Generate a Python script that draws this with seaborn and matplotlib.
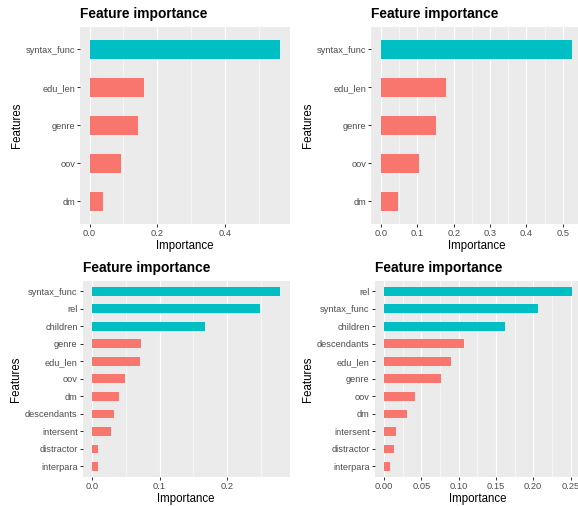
import seaborn as sns
import matplotlib.pyplot as plt
import pandas as pd
import numpy as np


# Data
features_1 = ['syntax_func', 'edu_len', 'genre', 'oov', 'dm']
importance_1 = [0.561, 0.161, 0.143, 0.093, 0.040]
top_1 = [True, False, False, False, False]
ticks_1 = [0.0, 0.2, 0.4]
ticklabels_1 = ['0.0', '0.2', '0.4']

features_2 = ['syntax_func', 'edu_len', 'genre', 'oov', 'dm']
importance_2 = [0.526, 0.179, 0.151, 0.105, 0.047]
top_2 = [True, False, False, False, False]
ticks_2 = [0.0, 0.1, 0.2, 0.3, 0.4, 0.5]
ticklabels_2 = ['0.0', '0.1', '0.2', '0.3', '0.4', '0.5']

features_3 = ['syntax_func', 'rel', 'children', 'genre', 'edu_len', 'oov',
              'dm', 'descendants', 'intersent', 'distractor', 'interpara']
importance_3 = [0.278, 0.248, 0.167, 0.072, 0.071, 0.049,
                0.040, 0.032, 0.028, 0.009, 0.009]
top_3 = [True, True, True] + [False] * 8
ticks_3 = [0.0, 0.1, 0.2]
ticklabels_3 = ['0.0', '0.1', '0.2']

features_4 = ['rel', 'syntax_func', 'children', 'descendants', 'edu_len', 'genre',
              'oov', 'dm', 'intersent', 'distractor', 'interpara']
importance_4 = [0.252, 0.206, 0.162, 0.107, 0.090, 0.076,
                0.042, 0.031, 0.016, 0.013, 0.008]
top_4 = [True, True, True] + [False] * 8
ticks_4 = [0.0, 0.05, 0.10, 0.15, 0.20, 0.25]
ticklabels_4 = ['0.00', '0.05', '0.10', '0.15', '0.20', '0.25']

palette = {True: '#00BFC4', False: '#F8766D'}

sns.set_theme(style="darkgrid")
plt.rcParams['font.family'] = ['Liberation Sans', 'DejaVu Sans']

W, H = 578, 506
fig = plt.figure(figsize=(W / 72, H / 72), dpi=72)

# panel boxes in pixels: left, top, right, bottom
boxes = [(80, 26.7, 289.6, 224), (371.4, 26.7, 581.7, 224),
         (82.6, 280.7, 289.5, 477), (374.6, 280.7, 581.4, 477)]

panels = [(features_1, importance_1, top_1, ticks_1, ticklabels_1),
          (features_2, importance_2, top_2, ticks_2, ticklabels_2),
          (features_3, importance_3, top_3, ticks_3, ticklabels_3),
          (features_4, importance_4, top_4, ticks_4, ticklabels_4)]

for (l, t, r, b), (feat, imp, top, ticks, tlabels) in zip(boxes, panels):
    ax = fig.add_axes([l / W, 1 - b / H, (r - l) / W, (b - t) / H])
    df = pd.DataFrame({'Features': feat, 'Importance': imp, 'top': top})
    sns.barplot(data=df, x='Importance', y='Features', hue='top', order=feat,
                palette=palette, dodge=False, width=0.5, saturation=1,
                linewidth=0, legend=False, ax=ax)

    xmax = max(imp)
    ax.set_xlim(-0.05 * xmax, 1.05 * xmax)
    ax.set_ylim(len(feat) - 1 + 0.6, -0.6)

    step = ticks[1] - ticks[0]
    minor = [v + step / 2 for v in ticks if v + step / 2 < 1.05 * xmax]
    ax.set_xticks(ticks)
    ax.set_xticklabels(tlabels)
    ax.set_xticks(minor, minor=True)

    ax.set_facecolor('#EBEBEB')
    ax.grid(False)
    ax.set_axisbelow(True)
    ax.xaxis.grid(True, which='major', color='white', linewidth=1.1)
    ax.xaxis.grid(True, which='minor', color='white', linewidth=0.55)
    for s in ax.spines.values():
        s.set_visible(False)

    ax.tick_params(axis='both', which='major', length=2.7, width=1.0,
                   color='#333333', labelcolor='#4D4D4D', labelsize=9.2, pad=2.2)
    ax.tick_params(axis='x', which='minor', length=0)
    ax.tick_params(left=True, bottom=True)

    ax.set_title('Feature importance', loc='left', fontweight='bold',
                 fontsize=13.8, color='black', pad=9)
    ax.set_xlabel('Importance', fontsize=11.5, color='black', labelpad=2.5)
    ax.set_ylabel('Features', fontsize=11.5, color='black', labelpad=3)

plt.savefig('out.png', dpi=72)
